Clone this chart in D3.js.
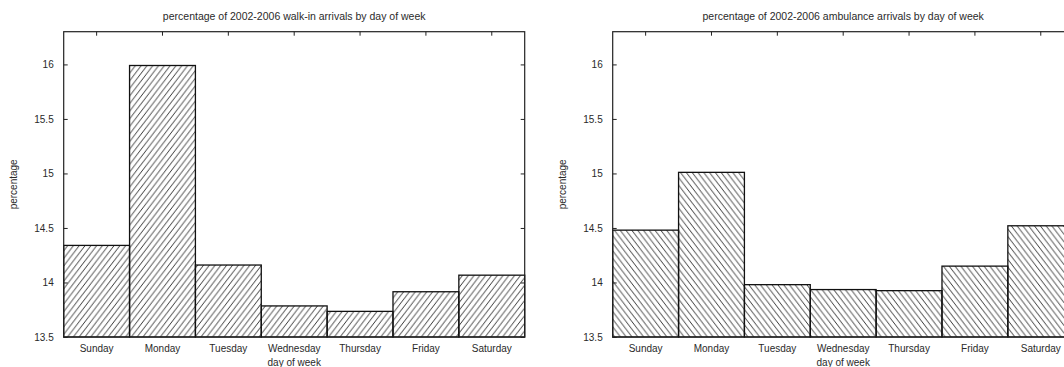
<!DOCTYPE html>
<html>
<head>
<meta charset="utf-8">
<script src="https://cdn.jsdelivr.net/npm/d3@7"></script>
<style>
  body { margin: 0; background: #fff; }
  svg text { font-family: "Liberation Sans", Arial, sans-serif; font-size: 10px; fill: #2a2a2a; }
  svg text.title { font-size: 10.5px; }
</style>
</head>
<body>
<script>
// chart data
var days = ["Sunday", "Monday", "Tuesday", "Wednesday", "Thursday", "Friday", "Saturday"];
var walkIn = [14.34, 15.99, 14.16, 13.785, 13.735, 13.915, 14.067];
var ambulance = [14.48, 15.01, 13.98, 13.935, 13.925, 14.15, 14.52];
var yTicks = [13.5, 14, 14.5, 15, 15.5, 16];
var titles = ["percentage of 2002-2006 walk-in arrivals by day of week",
              "percentage of 2002-2006 ambulance arrivals by day of week"];

var W = 1064, H = 367;
var plotW = 461, plotTop = 31.7, plotBottom = 337;
var panelX = [63.7, 612.7];

var svg = d3.select("body").append("svg")
  .attr("width", W).attr("height", H);

// hatch patterns: "/" for walk-in, "\" for ambulance
var defs = svg.append("defs");
function hatch(id, flip) {
  var pw = 5.8, ph = 7.6;
  var p = defs.append("pattern")
    .attr("id", id)
    .attr("patternUnits", "userSpaceOnUse")
    .attr("width", pw).attr("height", ph);
  [-pw, 0, pw].forEach(function(dx) {
    p.append("line")
      .attr("x1", dx).attr("y1", flip ? 0 : ph)
      .attr("x2", dx + pw).attr("y2", flip ? ph : 0)
      .attr("stroke", "#222").attr("stroke-width", 0.9);
  });
}
hatch("hatchFwd", false);
hatch("hatchBack", true);

function drawPanel(x0, values, title, patId) {
  var g = svg.append("g").attr("transform", "translate(" + x0 + ",0)");

  var x = d3.scaleBand().domain(days).range([0, plotW]).padding(0);
  var y = d3.scaleLinear().domain([13.5, 16.3]).range([plotBottom, plotTop]);

  // bars
  g.selectAll("rect.bar")
    .data(values)
    .enter()
    .append("rect")
    .attr("class", "bar")
    .attr("x", function(d, i) { return x(days[i]); })
    .attr("y", function(d) { return y(d); })
    .attr("width", x.bandwidth())
    .attr("height", function(d) { return plotBottom - y(d); })
    .attr("fill", "url(#" + patId + ")")
    .attr("stroke", "#111")
    .attr("stroke-width", 1.3);

  // frame
  g.append("rect")
    .attr("x", 0).attr("y", plotTop)
    .attr("width", plotW).attr("height", plotBottom - plotTop)
    .attr("fill", "none").attr("stroke", "#222").attr("stroke-width", 1.2);

  // y axis left, ticks inward
  var yl = g.append("g")
    .call(d3.axisLeft(y).tickValues(yTicks).tickSizeInner(-4).tickSizeOuter(0).tickPadding(10)
      .tickFormat(function(d) { return d; }));
  yl.select(".domain").remove();
  yl.selectAll("line").attr("stroke", "#222");

  // mirror y ticks on the right
  var yr = g.append("g").attr("transform", "translate(" + plotW + ",0)")
    .call(d3.axisRight(y).tickValues(yTicks).tickSizeInner(-4).tickSizeOuter(0).tickFormat(""));
  yr.select(".domain").remove();
  yr.selectAll("line").attr("stroke", "#222");

  // mirror x ticks at top
  var xt = g.append("g").attr("transform", "translate(0," + plotTop + ")")
    .call(d3.axisTop(x).tickSizeInner(-4).tickSizeOuter(0).tickFormat(""));
  xt.select(".domain").remove();
  xt.selectAll("line").attr("stroke", "#222");

  // category labels
  var xb = g.append("g").attr("transform", "translate(0," + plotBottom + ")")
    .call(d3.axisBottom(x).tickSize(0).tickPadding(8));
  xb.select(".domain").remove();
  xb.selectAll("text").attr("dy", "0.71em");

  g.append("text")
    .attr("x", plotW / 2).attr("y", 366)
    .attr("text-anchor", "middle")
    .text("day of week");

  g.append("text")
    .attr("class", "title")
    .attr("x", plotW / 2).attr("y", 20)
    .attr("text-anchor", "middle")
    .text(title);

  g.append("text")
    .attr("transform", "translate(" + (-47) + "," + ((plotTop + plotBottom) / 2) + ") rotate(-90)")
    .attr("text-anchor", "middle")
    .text("percentage");
}

drawPanel(panelX[0], walkIn, titles[0], "hatchFwd");
drawPanel(panelX[1], ambulance, titles[1], "hatchBack");
</script>
</body>
</html>
